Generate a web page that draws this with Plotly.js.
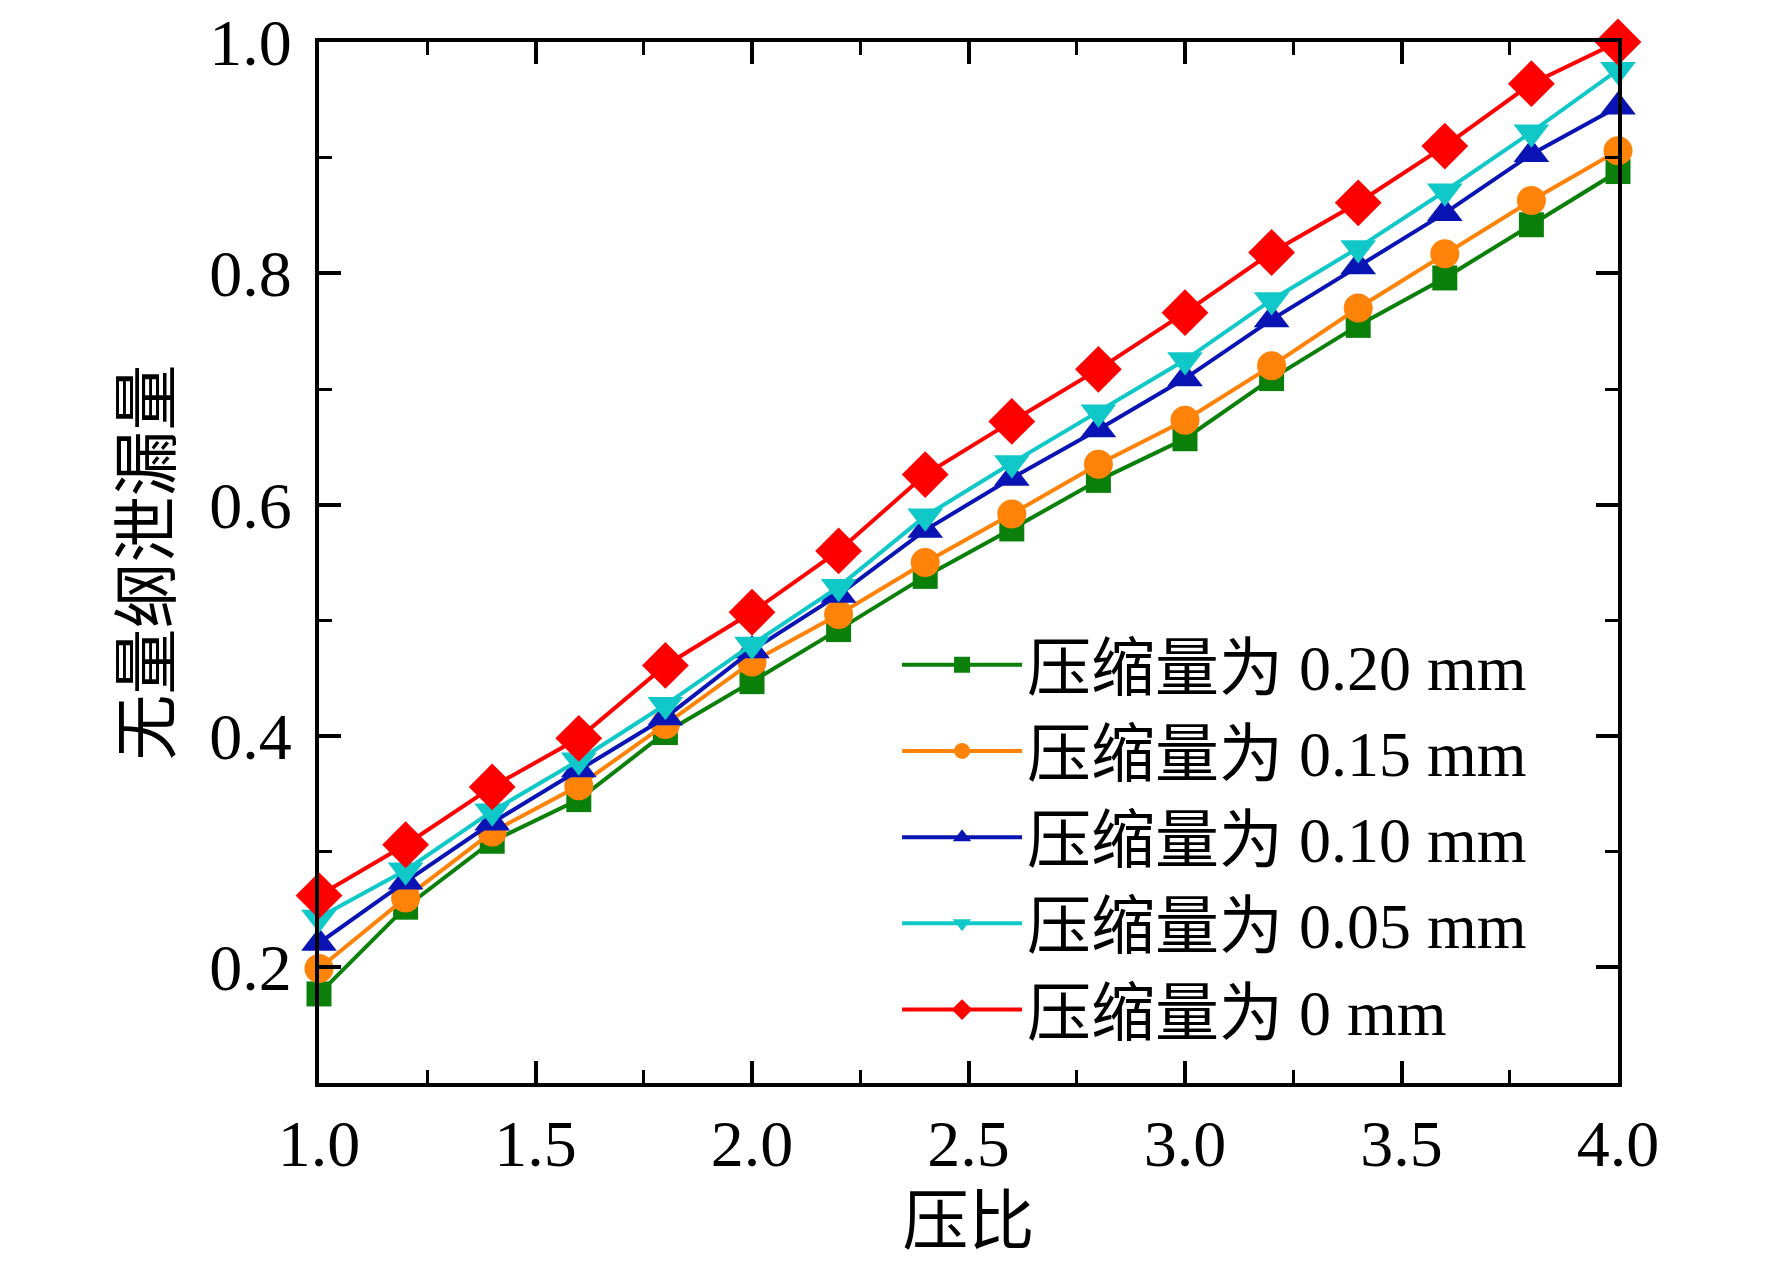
<!DOCTYPE html>
<html>
<head>
<meta charset="utf-8">
<script src="https://cdn.plot.ly/plotly-3.0.1.min.js"></script>
<style>
  html, body { margin: 0; padding: 0; background: #fff; }
  #plot { width: 1772px; height: 1261px; }
</style>
</head>
<body>
<div id="plot"></div>
<script>
'use strict';

// pressure ratio
const ratio = [1.0, 1.2, 1.4, 1.6, 1.8, 2.0, 2.2, 2.4, 2.6, 2.8, 3.0, 3.2, 3.4, 3.6, 3.8, 4.0];

// dimensionless leakage for each compression amount
const leak020 = [0.177, 0.252, 0.309, 0.345, 0.403, 0.447, 0.492, 0.538, 0.579, 0.621, 0.657, 0.709, 0.755, 0.796, 0.842, 0.888];
const leak015 = [0.199, 0.260, 0.317, 0.357, 0.410, 0.464, 0.505, 0.550, 0.592, 0.635, 0.673, 0.720, 0.770, 0.817, 0.863, 0.906];
const leak010 = [0.221, 0.274, 0.325, 0.371, 0.416, 0.474, 0.522, 0.578, 0.623, 0.665, 0.709, 0.760, 0.806, 0.852, 0.903, 0.944];
const leak005 = [0.243, 0.284, 0.335, 0.379, 0.427, 0.479, 0.529, 0.590, 0.636, 0.680, 0.725, 0.777, 0.822, 0.871, 0.922, 0.976];
const leak000 = [0.262, 0.306, 0.356, 0.398, 0.461, 0.507, 0.560, 0.626, 0.672, 0.717, 0.766, 0.818, 0.861, 0.910, 0.964, 1.000];

const seriesNames = ['压缩量为 0.20 mm', '压缩量为 0.15 mm', '压缩量为 0.10 mm', '压缩量为 0.05 mm', '压缩量为 0 mm'];
const seriesValues = [leak020, leak015, leak010, leak005, leak000];
const seriesColors = ['#0a800a', '#ff8308', '#0a14b4', '#10c8c8', '#ff0000'];
const seriesSymbols = ['square', 'circle', 'triangle-up', 'triangle-down', 'diamond'];
const symbolSizes = [25, 29, 31, 31, 36];

const font = 'Liberation Serif, "Times New Roman", "Noto Sans CJK SC", serif';

var traces = [];
for (let i = 0; i < seriesNames.length; i++) {
  traces.push({
    type: 'scatter',
    mode: 'lines+markers',
    name: seriesNames[i],
    x: ratio,
    y: seriesValues[i],
    line: {color: seriesColors[i], width: 4},
    marker: {symbol: seriesSymbols[i], size: symbolSizes[i], color: seriesColors[i]},
    cliponaxis: false
  });
}

var axisCommon = {
  showline: true,
  linecolor: '#000',
  linewidth: 4,
  mirror: 'ticks',
  ticks: 'inside',
  ticklen: 22,
  tickwidth: 4,
  tickcolor: '#000',
  showgrid: false,
  zeroline: false,
  ticklabeloverflow: 'allow',
  tickfont: {family: font, size: 66, color: '#000'}
};

var layout = {
  width: 1772,
  height: 1261,
  paper_bgcolor: '#fff',
  plot_bgcolor: '#fff',
  margin: {l: 319, r: 154, t: 42, b: 178},
  showlegend: true,
  legend: {
    x: 0.445,
    y: 0.448,
    xanchor: 'left',
    yanchor: 'top',
    bgcolor: 'rgba(0,0,0,0)',
    borderwidth: 0,
    itemwidth: 120,
    tracegroupgap: 0,
    font: {family: font, size: 64, color: '#000'}
  },
  xaxis: Object.assign({}, axisCommon, {
    range: [1.0, 4.0],
    tick0: 1.0,
    dtick: 0.5,
    tickformat: '.1f',
    minor: {dtick: 0.25, ticks: 'inside', ticklen: 13, tickwidth: 3, tickcolor: '#000'},
    title: {text: '压比', font: {family: font, size: 66, color: '#000'}, standoff: 20}
  }),
  yaxis: Object.assign({}, axisCommon, {
    range: [0.1, 1.0],
    tick0: 0.2,
    dtick: 0.2,
    tickformat: '.1f',
    ticklabelstandoff: 10,
    minor: {dtick: 0.1, ticks: 'inside', ticklen: 13, tickwidth: 3, tickcolor: '#000'},
    title: {text: '无量纲泄漏量', font: {family: font, size: 66, color: '#000'}, standoff: 18}
  })
};

var config = {
  responsive: false,
  displayModeBar: false
};

Plotly.newPlot('plot', traces, layout, config);
</script>
</body>
</html>
